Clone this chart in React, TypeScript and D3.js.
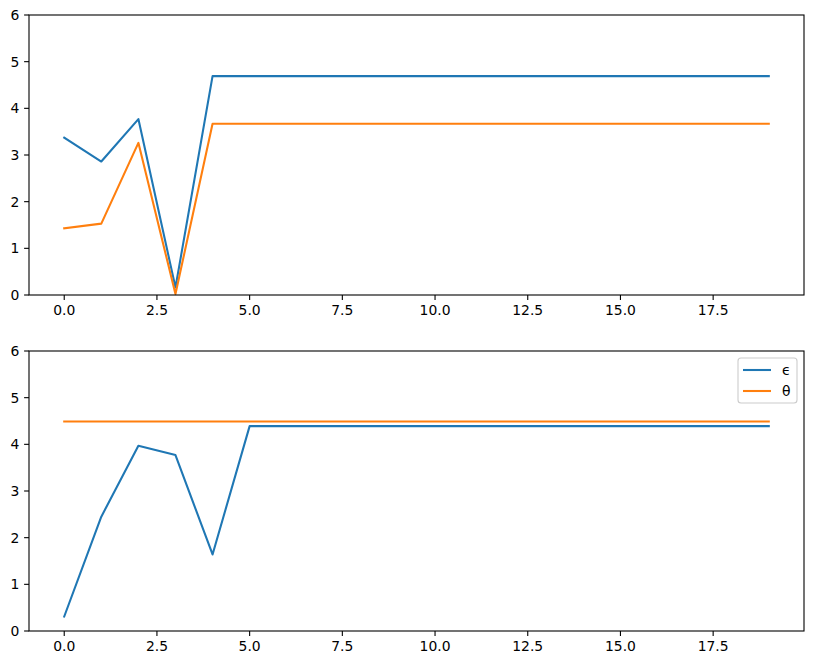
import React from "react";
import * as d3 from "d3";

const xs: number[] = d3.range(20);
const topBlue: number[] = [3.37, 2.86, 3.77, 0.16, 4.69, 4.69, 4.69, 4.69, 4.69, 4.69, 4.69, 4.69, 4.69, 4.69, 4.69, 4.69, 4.69, 4.69, 4.69, 4.69];
const topOrange: number[] = [1.43, 1.53, 3.26, 0.02, 3.67, 3.67, 3.67, 3.67, 3.67, 3.67, 3.67, 3.67, 3.67, 3.67, 3.67, 3.67, 3.67, 3.67, 3.67, 3.67];
const botBlue: number[] = [0.31, 2.45, 3.97, 3.77, 1.64, 4.39, 4.39, 4.39, 4.39, 4.39, 4.39, 4.39, 4.39, 4.39, 4.39, 4.39, 4.39, 4.39, 4.39, 4.39];
const botOrange: number[] = [4.49, 4.49, 4.49, 4.49, 4.49, 4.49, 4.49, 4.49, 4.49, 4.49, 4.49, 4.49, 4.49, 4.49, 4.49, 4.49, 4.49, 4.49, 4.49, 4.49];
const xTicks: number[] = [0, 2.5, 5, 7.5, 10, 12.5, 15, 17.5];
const yTicks: number[] = [0, 1, 2, 3, 4, 5, 6];
const legendLabels: string[] = ["ϵ", "θ"];

const BLUE = "#1f77b4";
const ORANGE = "#ff7f0e";
const FONT = "DejaVu Sans, sans-serif";
const FS = 13.9;
const LW = 2.08;

const L = 29, R = 804;
const x = d3.scaleLinear().domain([-0.95, 19.95]).range([L, R]);

function Panel({ top, bottom, s1, s2, legend }: { top: number; bottom: number; s1: number[]; s2: number[]; legend?: boolean }) {
  const y = d3.scaleLinear().domain([0, 6]).range([bottom, top]);
  const line = d3.line<number>().x((_, i) => x(xs[i])).y((d) => y(d));
  const fmt = d3.format(".1f");
  return (
    <g>
      <path d={line(s1) || ""} fill="none" stroke={BLUE} strokeWidth={LW} strokeLinejoin="round" strokeLinecap="square" />
      <path d={line(s2) || ""} fill="none" stroke={ORANGE} strokeWidth={LW} strokeLinejoin="round" strokeLinecap="square" />
      <rect x={L} y={top} width={R - L} height={bottom - top} fill="none" stroke="#000" strokeWidth={1.1} />
      {xTicks.map((t) => (
        <g key={"x" + t}>
          <line x1={x(t)} x2={x(t)} y1={bottom} y2={bottom + 4.9} stroke="#000" strokeWidth={1.1} />
          <text x={x(t)} y={bottom + 9.7} dy="0.76em" textAnchor="middle" fontFamily={FONT} fontSize={FS} fill="#000">{fmt(t)}</text>
        </g>
      ))}
      {yTicks.map((t) => (
        <g key={"y" + t}>
          <line x1={L - 4.9} x2={L} y1={y(t)} y2={y(t)} stroke="#000" strokeWidth={1.1} />
          <text x={L - 9.7} y={y(t)} dy="0.36em" textAnchor="end" fontFamily={FONT} fontSize={FS} fill="#000">{t}</text>
        </g>
      ))}
      {legend && (
        <g>
          <rect x={738} y={358} width={59} height={45} rx={3} fill="#fff" fillOpacity={0.8} stroke="#ccc" strokeWidth={1.1} />
          {legendLabels.map((lab, i) => (
            <g key={lab}>
              <line x1={743} x2={771} y1={370 + i * 21} y2={370 + i * 21} stroke={i === 0 ? BLUE : ORANGE} strokeWidth={LW} />
              <text x={782} y={370 + i * 21} dy="0.36em" fontFamily={FONT} fontSize={FS} fill="#000">{lab}</text>
            </g>
          ))}
        </g>
      )}
    </g>
  );
}

export default function App() {
  return (
    <svg width={813} height={665} style={{ display: "block", position: "absolute", left: 0, top: 0, background: "#fff" }}>
      <rect width={813} height={665} fill="#fff" />
      <Panel top={15} bottom={295} s1={topBlue} s2={topOrange} />
      <Panel top={351} bottom={631} s1={botBlue} s2={botOrange} legend />
    </svg>
  );
}
